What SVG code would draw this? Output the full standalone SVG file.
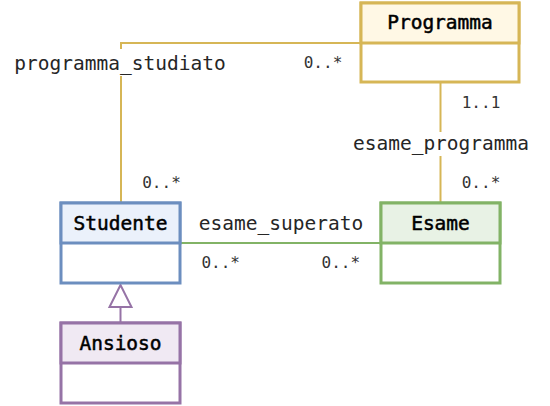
<svg xmlns="http://www.w3.org/2000/svg" width="550" height="406" viewBox="0 0 550 406">
<style>
.cls{font-family:"DejaVu Sans Mono","Liberation Mono",monospace;font-size:19.5px;font-weight:normal;fill:#000;stroke:#000;stroke-width:0.5;text-anchor:middle}
.lbl{font-family:"DejaVu Sans Mono","Liberation Mono",monospace;font-size:19.5px;fill:#262626;text-anchor:middle}
.mul{font-family:"DejaVu Sans Mono","Liberation Mono",monospace;font-size:16px;fill:#333;text-anchor:middle}
.box{stroke-width:3}
.body{fill:#fff}
.conn{fill:none;stroke-width:2}
</style>
<rect width="550" height="406" fill="#fff"/>
<g id="connectors">
  <path class="conn" d="M121 203 V43 H361" stroke="#d6b656"/>
  <path class="conn" d="M440.5 82 V203" stroke="#d6b656"/>
  <path class="conn" d="M180 243 H381" stroke="#82b366"/>
  <path class="conn" d="M120.5 307 V322" stroke="#9673a6"/>
  <polygon points="120.5,285 109.5,307 131.5,307" fill="#fff" stroke="#9673a6" stroke-width="2"/>
  <rect x="14" y="49" width="214" height="27" fill="#fff"/>
  <text class="lbl" x="120" y="70">programma_studiato</text>
  <text class="mul" x="323" y="68">0..*</text>
  <text class="mul" x="161.5" y="188">0..*</text>
  <rect x="351" y="132" width="180" height="24" fill="#fff"/>
  <text class="lbl" x="441" y="150">esame_programma</text>
  <text class="mul" x="481" y="108">1..1</text>
  <text class="mul" x="481" y="188">0..*</text>
  <text class="lbl" x="281" y="230">esame_superato</text>
  <text class="mul" x="220.7" y="268">0..*</text>
  <text class="mul" x="340.8" y="268">0..*</text>
</g>
<g id="Programma">
  <rect class="box body" x="361" y="3" width="158" height="79" stroke="#d6b656"/>
  <rect class="box" x="361" y="3" width="158" height="40" fill="#fff8e5" stroke="#d6b656"/>
  <text class="cls" x="440" y="29">Programma</text>
</g>
<g id="Studente">
  <rect class="box body" x="61" y="203" width="119" height="80" stroke="#6c8ebf"/>
  <rect class="box" x="61" y="203" width="119" height="40" fill="#ebf1fb" stroke="#6c8ebf"/>
  <text class="cls" x="120.5" y="230">Studente</text>
</g>
<g id="Esame">
  <rect class="box body" x="381" y="203" width="119" height="80" stroke="#82b366"/>
  <rect class="box" x="381" y="203" width="119" height="40" fill="#e8f2e5" stroke="#82b366"/>
  <text class="cls" x="440.5" y="230">Esame</text>
</g>
<g id="Ansioso">
  <rect class="box body" x="61" y="323" width="119" height="80" stroke="#9673a6"/>
  <rect class="box" x="61" y="323" width="119" height="40" fill="#f0e9f3" stroke="#9673a6"/>
  <text class="cls" x="120.5" y="350">Ansioso</text>
</g>
</svg>
